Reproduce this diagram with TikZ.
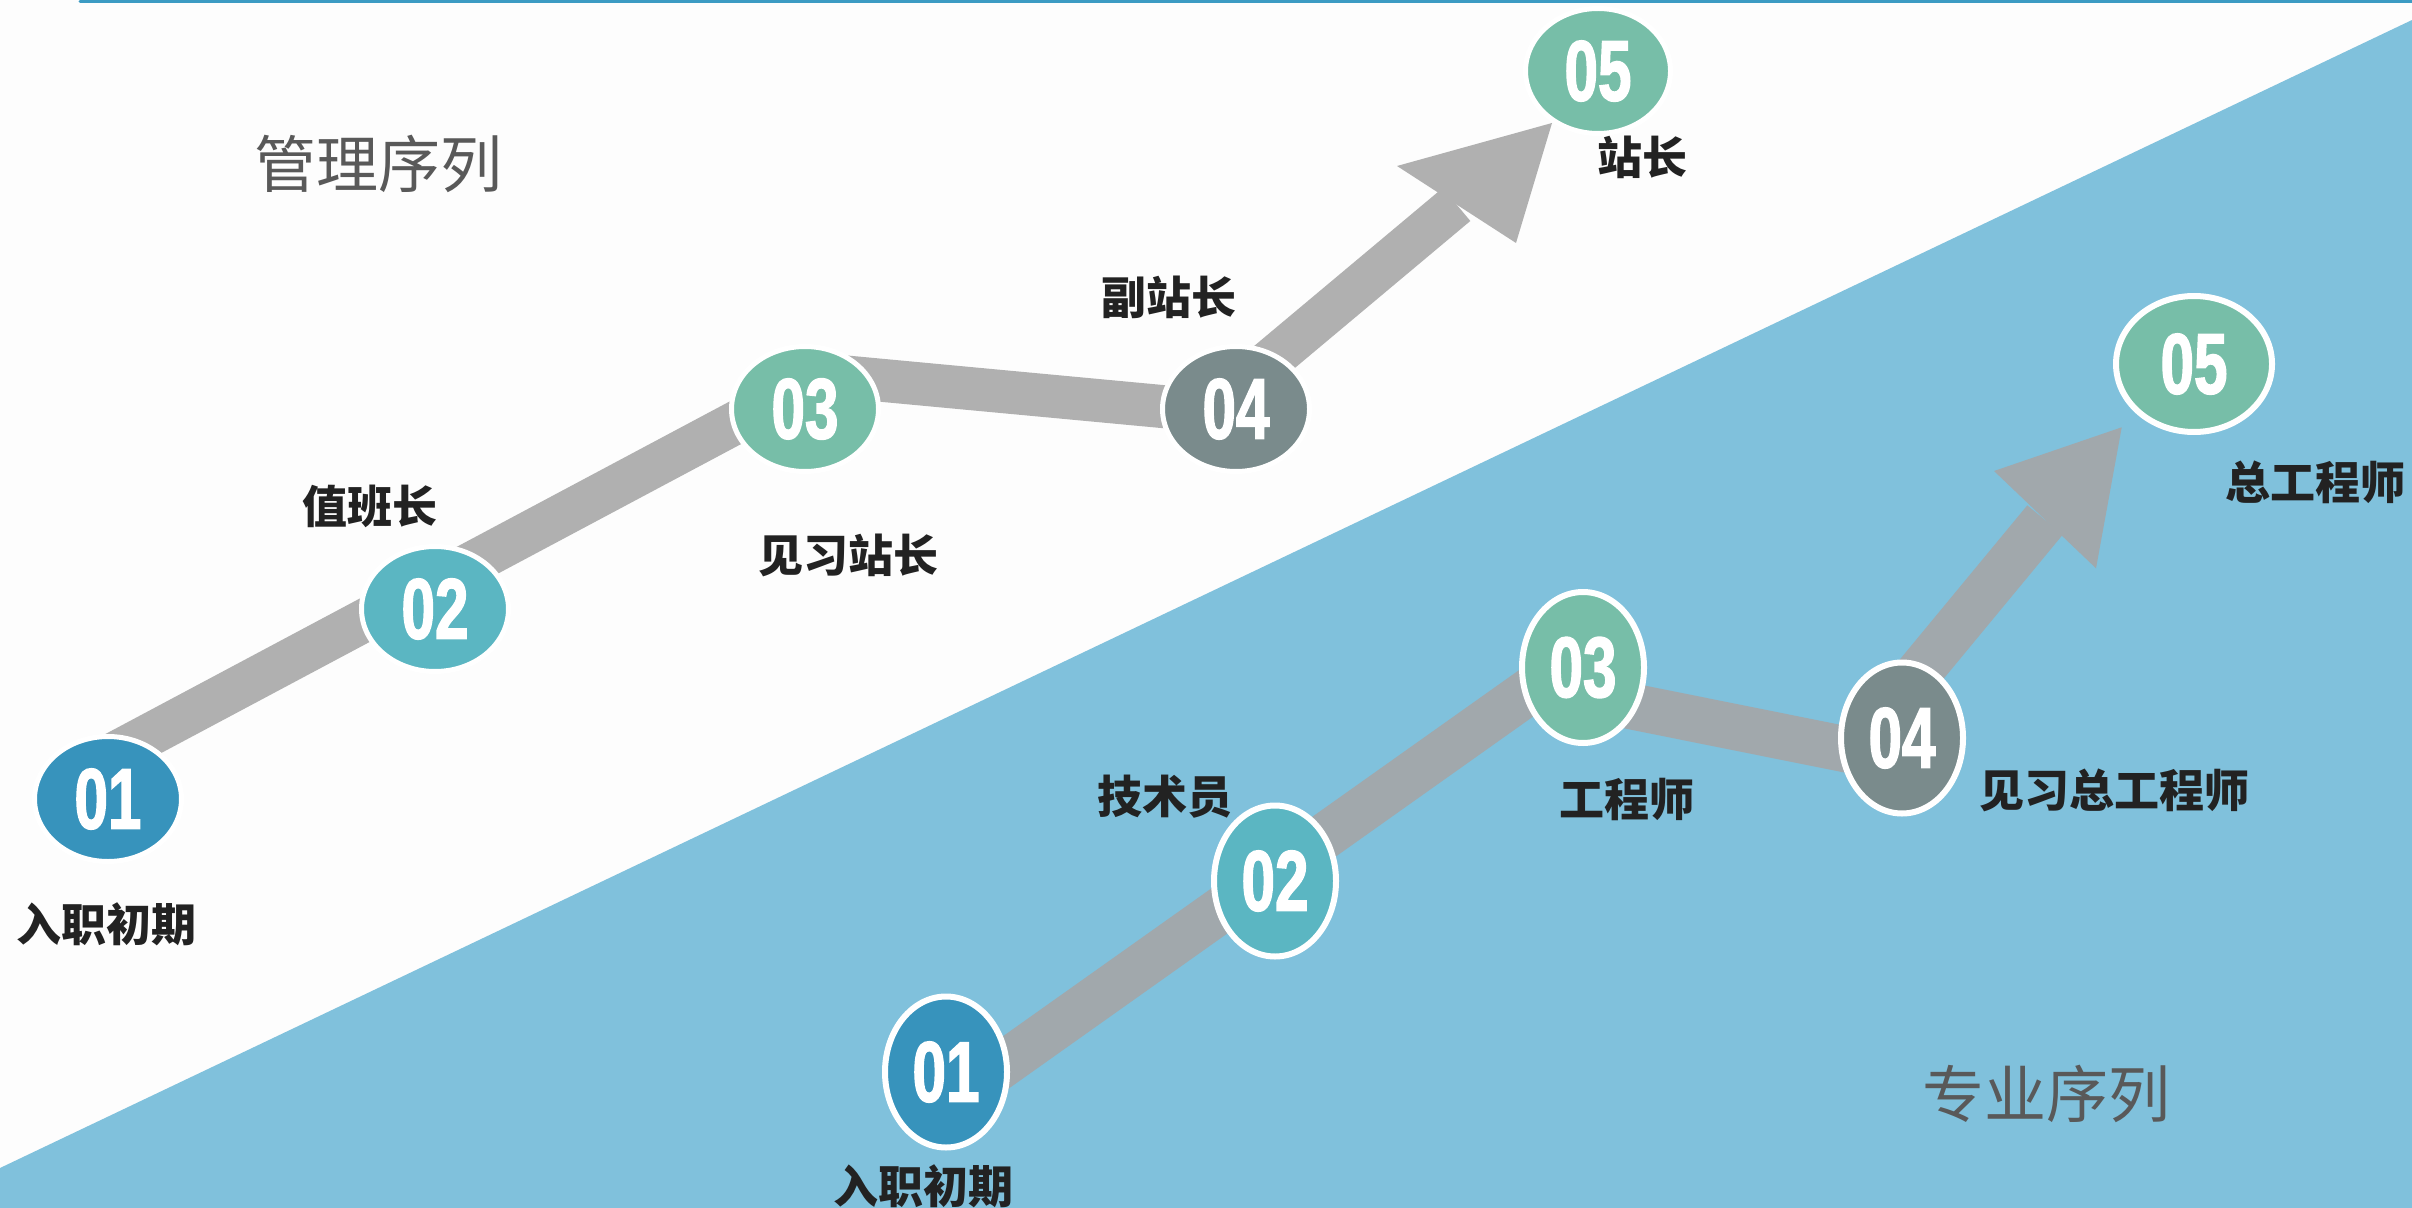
\documentclass[tikz,border=0pt]{standalone}
\usepackage{fontspec}
\usetikzlibrary{shapes.geometric}
\newfontfamily\cjk{Noto Sans CJK SC}
\newfontfamily\numfont[FakeStretch=0.7, BoldFeatures={FakeBold=1.6}]{Liberation Sans}
\definecolor{bgw}{HTML}{FDFDFD}
\definecolor{bgblue}{HTML}{80C1DC}
\definecolor{topline}{HTML}{3C9BC3}
\definecolor{cA}{HTML}{3793BC}
\definecolor{cB}{HTML}{5BB6C2}
\definecolor{cC}{HTML}{77BEA8}
\definecolor{cD}{HTML}{7A8B8C}
\definecolor{grayU}{HTML}{B0B0B0}
\definecolor{grayL}{HTML}{A1A8AC}
\definecolor{labc}{HTML}{222222}
\definecolor{titc}{HTML}{595959}
\begin{document}
\begin{tikzpicture}[x=0.5pt,y=-0.5pt,
  bubble/.style={ellipse, draw=white, inner sep=0pt, text=white,
    font=\numfont\bfseries\fontsize{43pt}{43pt}\selectfont},
  ubub/.style={bubble, line width=2.5pt, minimum width=73.5pt, minimum height=62.5pt},
  lbub/.style={bubble, line width=3pt, minimum width=61pt, minimum height=75.5pt},
  lab/.style={font=\cjk\bfseries\fontsize{22.5pt}{22.5pt}\selectfont, text=labc, inner sep=0pt},
  tit/.style={font=\cjk\fontsize{31pt}{31pt}\selectfont, text=titc, inner sep=0pt},
  bandU/.style={draw=grayU, line width=21.5pt, line join=round},
  bandL/.style={draw=grayL, line width=23pt, line join=round}]
\useasboundingbox (0,0) rectangle (2412,1208);
% background
\fill[bgw] (0,0) rectangle (2412,1208);
\fill[bgblue] (0,1168) -- (2412,20) -- (2412,1208) -- (0,1208) -- cycle;
\draw[topline, line width=1.5pt, line cap=round] (80,1.5) -- (2412,1.5);
% titles
\node[tit] (tU) at (378,164) {管理序列};
\node[tit] (tL) at (2046,1094) {专业序列};
% upper band
\coordinate (ua) at (108,757);
\coordinate (ub) at (825,375);
\coordinate (uc) at (1210,411);
\coordinate (ud) at (1456.5,204.5);
\coordinate (ut) at (1552,123);
\coordinate (ul) at (1397,166);
\coordinate (ur) at (1516,243);
\draw[bandU] (ua) -- (ub) -- (uc) -- (ud);
\fill[grayU] (ul) -- (ut) -- (ur) -- cycle;
% lower band
\coordinate (la) at (950,1102);
\coordinate (lb) at (1535,687);
\coordinate (lc) at (1854,751);
\coordinate (ld) at (2045,520);
\coordinate (lt) at (2121.7,427.3);
\coordinate (ll) at (1994,471);
\coordinate (lr) at (2096,568.3);
\draw[bandL] (la) -- (lb) -- (lc) -- (ld);
\fill[grayL] (ll) -- (lt) -- (lr) -- cycle;
% upper bubbles
\node[ubub, fill=cA] (u1) at (108,799) {01};
\node[ubub, fill=cB] (u2) at (435,609) {02};
\node[ubub, fill=cC] (u3) at (805,409) {03};
\node[ubub, fill=cD] (u4) at (1236,409) {04};
\node[ubub, fill=cC, minimum width=72.5pt] (u5) at (1598,71) {05};
% lower bubbles
\node[lbub, fill=cA] (l1) at (946,1072) {01};
\node[lbub, fill=cB] (l2) at (1275,881) {02};
\node[lbub, fill=cC] (l3) at (1583,667.5) {03};
\node[lbub, fill=cD] (l4) at (1902,738) {04};
\node[bubble, line width=3pt, minimum width=78pt, minimum height=68pt, fill=cC] (l5) at (2194,364) {05};
% upper labels
\node[lab] (ku1) at (107,924) {入职初期};
\node[lab] (ku2) at (370,506) {值班长};
\node[lab] (ku3) at (848,555) {见习站长};
\node[lab] (ku4) at (1169,297) {副站长};
\node[lab] (ku5) at (1642,157) {站长};
% lower labels
\node[lab] (kl1) at (923.5,1186) {入职初期};
\node[lab] (kl2) at (1165,797) {技术员};
\node[lab] (kl3) at (1627,799) {工程师};
\node[lab] (kl4) at (2114,790) {见习总工程师};
\node[lab] (kl5) at (2315,482) {总工程师};
\end{tikzpicture}
\end{document}
